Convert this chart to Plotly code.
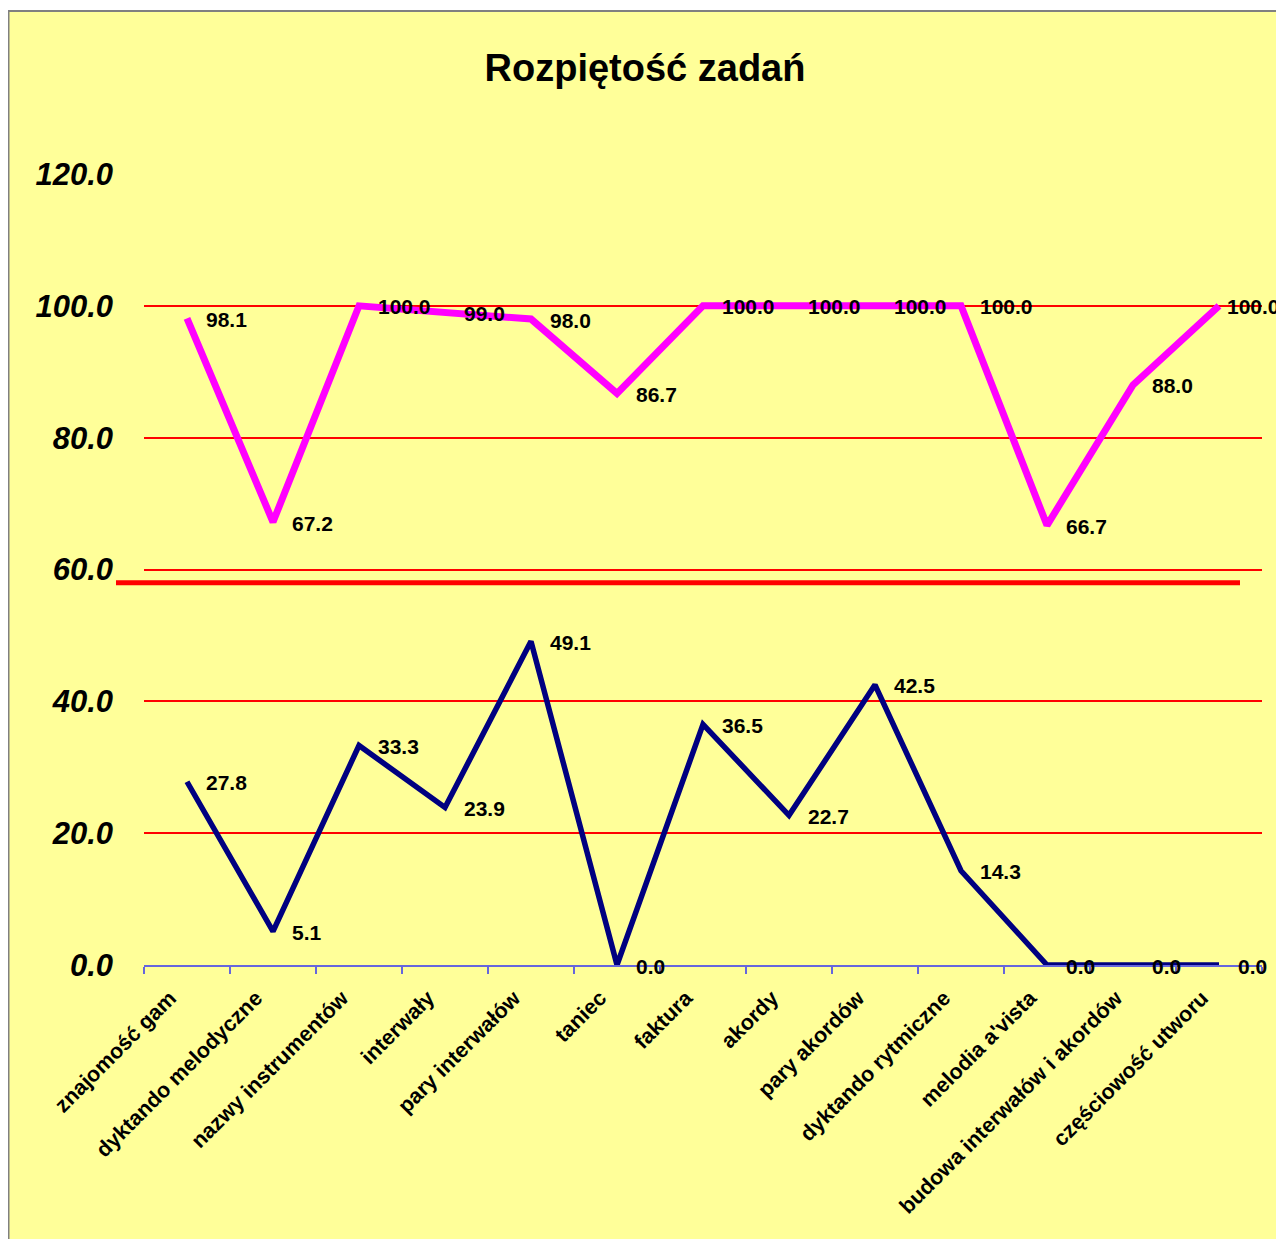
import plotly.graph_objects as go

categories = ["znajomość gam", "dyktando melodyczne", "nazwy instrumentów", "interwały",
              "pary interwałów", "taniec", "faktura", "akordy", "pary akordów",
              "dyktando rytmiczne", "melodia a'vista", "budowa interwałów i akordów",
              "częściowość utworu"]
max_vals = [98.1, 67.2, 100.0, 99.0, 98.0, 86.7, 100.0, 100.0, 100.0, 100.0, 66.7, 88.0, 100.0]
min_vals = [27.8, 5.1, 33.3, 23.9, 49.1, 0.0, 36.5, 22.7, 42.5, 14.3, 0.0, 0.0, 0.0]
y_ticks = [0, 20, 40, 60, 80, 100, 120]
divider_value = 58

# page body adds an 8px offset; figure sized to fill the rest of the window
OFF = 8
W, H = 1284 - OFF, 1239 - OFF
L, R, T, B = 144 - OFF, 22, 174 - OFF, 274
pw, ph = W - L - R, H - T - B

def px_x(p):
    return (p - OFF - L) / pw

def px_y(p):
    return (H - B - (p - OFF)) / ph

YELLOW = "#FFFF99"
FONT = "Liberation Sans, Arial, sans-serif"

fig = go.Figure()
fig.add_trace(go.Scatter(x=categories, y=max_vals, mode="lines",
                         line=dict(color="#FF00FF", width=7), showlegend=False))
fig.add_trace(go.Scatter(x=categories, y=min_vals, mode="lines",
                         line=dict(color="#000080", width=5.5), showlegend=False))

annotations = []
for si, series in enumerate((max_vals, min_vals)):
    for i, (c, v) in enumerate(zip(categories, series)):
        shift = 17
        if si == 0 and i == len(categories) - 1:
            shift = 6
        annotations.append(dict(x=c, y=v, xref="x", yref="y", text=f"{v:.1f}",
                                showarrow=False, xanchor="left", yanchor="middle",
                                xshift=shift, yshift=-1,
                                font=dict(family=FONT, size=21, color="black", weight="bold")))

shapes = [
    dict(type="rect", xref="paper", yref="paper", x0=px_x(OFF + 0.5), x1=px_x(1278),
         y0=px_y(1270), y1=px_y(11), fillcolor=YELLOW,
         line=dict(color="#808080", width=2), layer="below"),
    dict(type="line", xref="paper", yref="y", x0=px_x(116), x1=px_x(1240),
         y0=divider_value, y1=divider_value, line=dict(color="#FF0000", width=5)),
]

fig.update_layout(
    width=W, height=H,
    margin=dict(l=L, r=R, t=T, b=B),
    paper_bgcolor="white",
    plot_bgcolor="rgba(0,0,0,0)",
    title=dict(text="Rozpiętość zadań", x=(645 - OFF) / W, xref="container", xanchor="center",
               y=1 - (68 - OFF) / H, yref="container", yanchor="middle",
               font=dict(family=FONT, size=38, color="black", weight="bold")),
    xaxis=dict(
        type="category", range=[-0.5, len(categories) - 0.5],
        showgrid=False, zeroline=False,
        showline=True, linecolor="#6666DD", linewidth=2,
        ticks="outside", tickson="boundaries", ticklen=7, tickcolor="#6666DD", tickwidth=2,
        tickangle=-45, ticklabelstandoff=10, ticklabelshift=-17,
        tickfont=dict(family=FONT, size=21.5, color="black", weight="bold"),
    ),
    yaxis=dict(
        range=[0, 120], tickvals=y_ticks, ticktext=[f"{v:.1f}" for v in y_ticks],
        showgrid=True, gridcolor="#FF0000", gridwidth=2,
        zeroline=False, showline=False, ticks="",
        ticklabelstandoff=30,
        tickfont=dict(family=FONT, size=31, color="black", weight="bold", style="italic"),
    ),
    annotations=annotations,
    shapes=shapes,
)

fig.write_html("out.html")
